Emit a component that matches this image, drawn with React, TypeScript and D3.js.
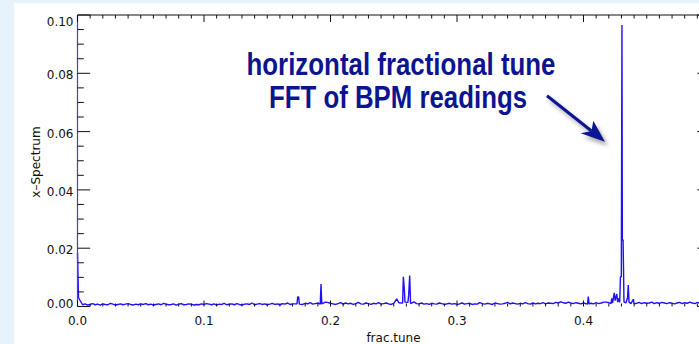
import React from "react";
import * as d3 from "d3";

// ---- data ----
const X_TICKS = [0, 0.1, 0.2, 0.3, 0.4];
const X_TICK_LABELS = ["0.0", "0.1", "0.2", "0.3", "0.4"];
const Y_TICKS = [0, 0.02, 0.04, 0.06, 0.08, 0.1];
const Y_TICK_LABELS = ["0.00", "0.02", "0.04", "0.06", "0.08", "0.10"];
const X_LABEL = "frac.tune";
const Y_LABEL = "x\u2013Spectrum";
const TITLE_1 = "horizontal fractional tune";
const TITLE_2 = "FFT of BPM readings";

// noise floor, units of 1e-4, sampled every 0.002 in frac.tune
const NOISE_STEP = 0.002;
const NOISE = [
  12, 8, 6, 9, 5, 7, 10, 6, 8, 5, 9, 7, 6, 11, 8, 5, 7, 9, 6, 8, 10, 7, 5, 8, 6,
  9, 7, 10, 6, 8, 5, 7, 9, 6, 11, 8, 6, 7, 9, 5, 8, 10, 6, 7, 9, 8, 5, 7, 6, 9,
  7, 10, 8, 6, 9, 5, 8, 7, 11, 6, 8, 9, 6, 10, 7, 5, 8, 9, 7, 12, 6, 8, 10, 7, 9,
  6, 8, 11, 7, 9, 6, 10, 8, 12, 7, 9, 14, 8, 10, 7, 11, 9, 13, 8, 10, 12, 7, 9, 15, 8,
  11, 9, 7, 10, 13, 8, 12, 9, 11, 7, 10, 14, 9, 8, 12, 10, 7, 11, 9, 13, 8, 10, 12, 9, 7,
  11, 8, 13, 10, 9, 12, 8, 11, 7, 10, 9, 12, 8, 10, 7, 11, 9, 8, 12, 10, 7, 9, 11, 8, 10,
  7, 9, 12, 8, 10, 11, 7, 9, 8, 13, 10, 8, 11, 9, 7, 12, 10, 8, 9, 11, 14, 9, 12, 10, 8,
  11, 9, 13, 10, 8, 12, 9, 11, 10, 13, 9, 12, 11, 10, 14, 12, 16, 13, 11, 15, 12, 10, 13, 11, 9,
  12, 10, 14, 11, 9, 13, 10, 12, 15, 11, 13, 10, 12, 14, 11, 9, 13, 12, 10, 15, 12, 11, 14, 10, 13,
  11, 12, 15, 10, 13, 11, 14, 12, 10, 13, 11, 9, 12, 14, 10, 13, 11, 15, 12, 10, 14, 11, 13, 9, 12,
  14, 10, 12, 11, 13, 10, 15, 12, 11, 13,
];

// explicit spectral lines [frac.tune, amplitude]
const PEAK_F = [
  0.0, 0.0008,
  0.1735, 0.1741, 0.1748, 0.1754,
  0.1919, 0.1925, 0.1931,
  0.1975,
  0.2523,
  0.257, 0.2576, 0.2583, 0.2589,
  0.2612, 0.2618, 0.2626, 0.2633,
  0.266,
  0.4032, 0.4038, 0.4044,
  0.418,
  0.4217, 0.4223, 0.423, 0.4243, 0.425, 0.4263, 0.427, 0.4278, 0.4286,
  0.4292, 0.4299, 0.4304, 0.4307, 0.4313, 0.432,
  0.4335, 0.4348, 0.4354, 0.436, 0.4375, 0.4394, 0.44,
];
const PEAK_V = [
  0.0184, 0.003,
  0.0009, 0.0033, 0.0033, 0.0008,
  0.0008, 0.0077, 0.0009,
  0.0014,
  0.0026,
  0.0012, 0.0102, 0.0063, 0.0015,
  0.0014, 0.0039, 0.0106, 0.001,
  0.0016,
  0.0008, 0.0034, 0.0009,
  0.0015,
  0.001, 0.0028, 0.0012, 0.0047, 0.002, 0.0043, 0.0015, 0.0028, 0.0014,
  0.0102, 0.0102, 0.0966, 0.0228, 0.0228, 0.0016,
  0.0012, 0.003, 0.0074, 0.0015, 0.001, 0.0025, 0.0009,
];

// ---- layout ----
const W = 699;
const H = 344;
const X0 = 77.5;
const X1 = 710;
const Y0 = 306.5;
const Y1 = 15;

export default function App() {
  const x = d3.scaleLinear().domain([0, 0.5]).range([X0, X1]);
  const y = d3.scaleLinear().domain([0, 0.1]).range([Y0, Y1]);

  const peaks = PEAK_F.map((f, i) => [f, PEAK_V[i]] as [number, number]);
  const noisePts = NOISE.map((v, i) => [i * NOISE_STEP, v * 1e-4] as [number, number]).filter(
    ([f]) => !peaks.some(([pf]) => Math.abs(pf - f) < 0.0015)
  );
  const pts = [...peaks, ...noisePts].sort((a, b) => a[0] - b[0]);
  const line = d3
    .line<[number, number]>()
    .x((d) => x(d[0]))
    .y((d) => y(d[1]));

  const xMinor = d3.range(0, 51).map((i) => i / 100);
  const yMinor = d3.range(0, 21).map((i) => i * 0.005);
  const tickFont = { fontFamily: "DejaVu Sans, sans-serif", fontSize: 12, fill: "#111" };

  // arrow geometry
  const ax0 = 547, ay0 = 95.7;
  const tip: [number, number] = [605, 141.7];
  const b1: [number, number] = [580.7, 133.3];
  const b2: [number, number] = [593.3, 120.7];
  const notch: [number, number] = [591.5, 131];

  return (
    <svg
      width={W}
      height={H}
      style={{ position: "absolute", left: 0, top: 0 }}
      xmlns="http://www.w3.org/2000/svg"
    >
      <defs>
        <filter id="shadow" x="-30%" y="-30%" width="160%" height="160%">
          <feDropShadow dx="3" dy="4" stdDeviation="2" floodColor="#000" floodOpacity="0.35" />
        </filter>
      </defs>
      <rect x={0} y={0} width={W} height={H} fill="#e6f2fc" />
      <rect x={14} y={3} width={W - 14} height={H - 3} fill="#ffffff" />

      {/* spectrum */}
      <path d={line(pts) || ""} fill="none" stroke="#1e10ff" strokeWidth={1.4} strokeLinejoin="bevel" />

      {/* axes box */}
      <line x1={X0} y1={Y1} x2={X1} y2={Y1} stroke="#111" strokeWidth={1} />
      <line x1={X1} y1={Y1} x2={X1} y2={Y0} stroke="#111" strokeWidth={1} />
      <line x1={X0} y1={Y1} x2={X0} y2={Y0} stroke="#4a3ae6" strokeWidth={1.2} />

      {/* x ticks */}
      {xMinor.map((f, i) => {
        const major = i % 10 === 0;
        const xx = x(f);
        return (
          <g key={"xt" + i}>
            <line x1={xx} y1={Y1} x2={xx} y2={Y1 + (major ? 7 : 3.5)} stroke="#111" strokeWidth={1} />
            <line x1={xx} y1={Y0} x2={xx} y2={Y0 - (major ? 6 : 3)} stroke="#111" strokeWidth={1} />
          </g>
        );
      })}
      {/* y ticks */}
      {yMinor.map((v, i) => {
        const major = i % 4 === 0;
        const yy = y(v);
        return (
          <g key={"yt" + i}>
            <line x1={X0} y1={yy} x2={X0 + (major ? 12.7 : 6.3)} y2={yy} stroke="#111" strokeWidth={1} />
            <line x1={X1} y1={yy} x2={X1 - (major ? 12.7 : 6.3)} y2={yy} stroke="#111" strokeWidth={1} />
          </g>
        );
      })}

      {/* tick labels */}
      {X_TICKS.map((t, i) => (
        <text key={"xl" + i} x={x(t)} y={325} textAnchor="middle" {...tickFont}>
          {X_TICK_LABELS[i]}
        </text>
      ))}
      {Y_TICKS.map((t, i) => {
        let yy = y(t) + 6;
        if (i === 0) yy = 307.5;
        if (i === Y_TICKS.length - 1) yy = 25.5;
        return (
          <text key={"yl" + i} x={73.5} y={yy} textAnchor="end" {...tickFont}>
            {Y_TICK_LABELS[i]}
          </text>
        );
      })}

      {/* axis titles */}
      <text x={393.5} y={342} textAnchor="middle" {...tickFont}>
        {X_LABEL}
      </text>
      <text
        transform="translate(39.5,162) rotate(-90)"
        textAnchor="middle"
        {...tickFont}
      >
        {Y_LABEL}
      </text>

      {/* annotation */}
      <g fill="#0c1490" fontFamily="Liberation Sans, Arial, sans-serif" fontWeight="bold" fontSize={31}>
        <text x={246.5} y={75} textLength={309} lengthAdjust="spacingAndGlyphs">
          {TITLE_1}
        </text>
        <text x={269} y={108.3} textLength={258} lengthAdjust="spacingAndGlyphs">
          {TITLE_2}
        </text>
      </g>
      <g filter="url(#shadow)">
        <line x1={ax0} y1={ay0} x2={notch[0]} y2={notch[1]} stroke="#0c1490" strokeWidth={3} />
        <polygon
          points={[tip, b1, notch, b2].map((p) => p.join(",")).join(" ")}
          fill="#0c1490"
        />
      </g>
    </svg>
  );
}
